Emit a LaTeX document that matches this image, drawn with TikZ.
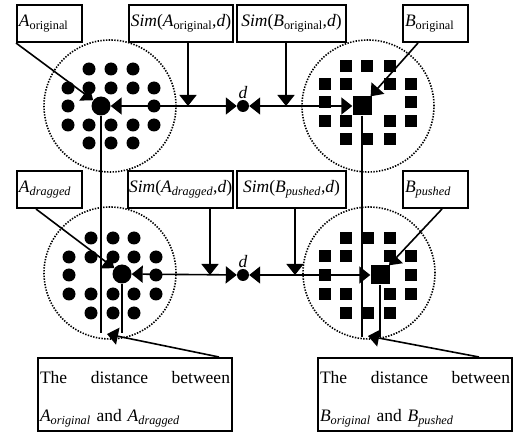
\documentclass[tikz,border=0pt]{standalone}
\usepackage{fontspec}
\setmainfont{Liberation Serif}
\usetikzlibrary{arrows.meta}
\pgfdeclarelayer{edgelayer}
\pgfdeclarelayer{nodelayer}
\pgfsetlayers{edgelayer,nodelayer,main}
\newcommand{\objup}[2]{\textit{#1}\textsubscript{#2}}
\newcommand{\objit}[2]{\textit{#1}\textsubscript{\textit{#2}}}
\tikzstyle{small_dot}=[circle,fill=black,minimum size=13pt,inner sep=0pt]
\tikzstyle{big_dot}=[circle,fill=black,minimum size=19pt,inner sep=0pt]
\tikzstyle{d_dot}=[circle,fill=black,minimum size=12pt,inner sep=0pt]
\tikzstyle{small_square}=[rectangle,fill=black,minimum size=12pt,inner sep=0pt]
\tikzstyle{big_square}=[rectangle,fill=black,minimum size=19pt,inner sep=0pt]
\tikzstyle{cluster}=[circle,draw=black,line width=1.6pt,dash pattern=on 1.4pt off 1.4pt,minimum size=132pt,inner sep=0pt]
\tikzstyle{name_box}=[rectangle,draw=black,line width=2pt,fill=white,anchor=north west,text width=61pt,inner xsep=2pt,minimum height=37pt,align=left]
\tikzstyle{sim_box}=[rectangle,draw=black,line width=2pt,fill=white,anchor=north west,minimum height=37pt,inner sep=1pt]
\tikzstyle{note_box}=[rectangle,draw=black,line width=2pt,fill=white,anchor=north west,text width=190pt,inner xsep=2pt,minimum height=73pt,align=left]
\tikzstyle{pointer}=[-{Triangle[length=11pt,width=17pt]},draw=black,line width=1.6pt]
\tikzstyle{twoway}=[{Triangle[length=11pt,width=17pt]}-{Triangle[length=11pt,width=17pt]},draw=black,line width=1.6pt]
\tikzstyle{stem}=[draw=black,line width=1.6pt]

\begin{document}
\begin{tikzpicture}[x=1pt,y=-1pt,font=\fontsize{17.5}{21}\selectfont]
	\useasboundingbox (0,0) rectangle (515,433);
	\begin{pgfonlayer}{nodelayer}
		% the four clusters
		\node [style=cluster] (aorig_set) at (110,106) {};
		\node [style=cluster] (borig_set) at (368,106) {};
		\node [style=cluster] (adrag_set) at (110,273) {};
		\node [style=cluster] (bpush_set) at (369,273) {};
		\foreach \x/\y in {89/69,111/69,133/69,68/88,89/88,111/88,133/88,154/88,68/106,154/106,
			68/125,89/125,111/125,133/125,154/125,89/143,111/143,133/143}
			\node [style=small_dot] (ta-\x-\y) at (\x,\y) {};
		\foreach \x/\y in {91/238,113/238,134/238,69/257,91/257,113/257,134/257,156/257,69/275,156/275,
			69/294,91/294,113/294,134/294,156/294,91/313,113/313,134/313}
			\node [style=small_dot] (ba-\x-\y) at (\x,\y) {};
		\foreach \x/\y in {346/66,367/66,390/66,325/84,346/84,390/84,411/84,325/102,411/102,
			325/121,346/121,390/121,411/121,346/139,367/139,390/139}
			\node [style=small_square] (tb-\x-\y) at (\x,\y) {};
		\foreach \x/\y in {346/238,368/238,390/238,325/256,346/256,390/256,411/256,325/275,411/275,
			325/294,346/294,390/294,411/294,346/313,368/313,390/313}
			\node [style=small_square] (bb-\x-\y) at (\x,\y) {};
		\node [style=big_dot] (aorig) at (101,106) {};
		\node [style=big_square] (borig) at (362,106) {};
		\node [style=big_dot] (adrag) at (122,274) {};
		\node [style=big_square] (bpush) at (380,275) {};
		\node [style=d_dot, label={[inner sep=1pt]above:\textit{d}}] (dtop) at (243,106) {};
		\node [style=d_dot, label={[inner sep=1pt]above:\textit{d}}] (dbot) at (243,275) {};
		% boxes
		\node [style=name_box] (aorig_lbl) at (16,4) {\objup{A}{original}};
		\node [style=name_box] (borig_lbl) at (402,4) {\objup{B}{original}};
		\node [style=name_box] (adrag_lbl) at (16,170) {\objit{A}{dragged}};
		\node [style=name_box] (bpush_lbl) at (402,170) {\objit{B}{pushed}};
		\node [style=sim_box, minimum width=104pt] (simAo) at (128,4) {\textit{Sim}(\objup{A}{original},\textit{d})};
		\node [style=sim_box, minimum width=109pt] (simBo) at (236,4) {\textit{Sim}(\objup{B}{original},\textit{d})};
		\node [style=sim_box, minimum width=103pt] (simAd) at (127,170) {\textit{Sim}(\objit{A}{dragged},\textit{d})};
		\node [style=sim_box, minimum width=109pt] (simBp) at (236,170) {\textit{Sim}(\objit{B}{pushed},\textit{d})};
		\node [style=note_box] (adist) at (37,357) {\rule{0pt}{22pt}The\hfill distance\hfill between\\[17pt]\objit{A}{original} and \objit{A}{dragged}};
		\node [style=note_box] (bdist) at (317,357) {\rule{0pt}{22pt}The\hfill distance\hfill between\\[17pt]\objit{B}{original} and \objit{B}{pushed}};
		\coordinate (simAo_tip) at (188,106);
		\coordinate (simBo_tip) at (286,106);
		\coordinate (simAd_tip) at (210,275);
		\coordinate (simBp_tip) at (295,275);
		\coordinate (aorig_foot) at (101,333);
		\coordinate (adrag_foot) at (122,333);
		\coordinate (borig_foot) at (362,337);
		\coordinate (bpush_foot) at (380,337);
		\coordinate (agap) at (107,334);
		\coordinate (bgap) at (368,336);
	\end{pgfonlayer}
	\begin{pgfonlayer}{edgelayer}
		\draw [style=pointer] (aorig_lbl.south west) to (aorig);
		\draw [style=pointer] ([xshift=16pt]borig_lbl.south west) to (borig);
		\draw [style=pointer] ([xshift=20pt]adrag_lbl.south west) to (adrag);
		\draw [style=pointer] ([xshift=40pt]bpush_lbl.south west) to (bpush);
		\draw [style=pointer] (simAo_tip |- simAo.south) to (simAo_tip);
		\draw [style=pointer] (simBo_tip |- simBo.south) to (simBo_tip);
		\draw [style=pointer] (simAd_tip |- simAd.south) to (simAd_tip);
		\draw [style=pointer] (simBp_tip |- simBp.south) to (simBp_tip);
		\draw [style=twoway] (aorig) to (dtop);
		\draw [style=twoway] (dtop) to (borig);
		\draw [style=twoway] (adrag) to (dbot);
		\draw [style=twoway] (dbot) to (bpush);
		\draw [style=stem] (aorig) to (aorig_foot);
		\draw [style=stem] (adrag) to (adrag_foot);
		\draw [style=stem] (borig) to (borig_foot);
		\draw [style=stem] (bpush) to (bpush_foot);
		\draw [style=pointer] ([xshift=-14pt]adist.north east) to (agap);
		\draw [style=pointer] ([xshift=-34pt]bdist.north east) to (bgap);
	\end{pgfonlayer}
\end{tikzpicture}
\end{document}
